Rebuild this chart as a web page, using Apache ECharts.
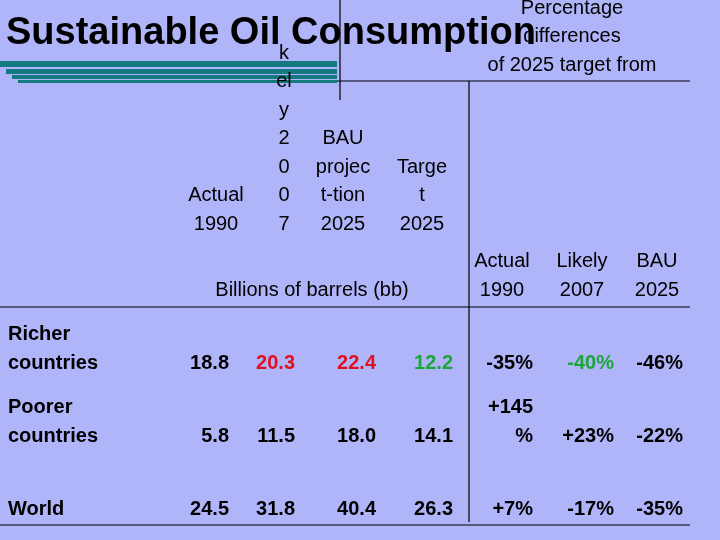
<!DOCTYPE html>
<html>
<head>
<meta charset="utf-8">
<script src="https://cdn.jsdelivr.net/npm/echarts@6/dist/echarts.min.js"></script>
<style>html,body{margin:0;padding:0;background:#b0b4f8}#main{width:720px;height:540px}</style>
</head>
<body>
<div id="main"></div>
<script>
const rowNames = [['Richer', 'countries'], ['Poorer', 'countries'], ['World']];
const actual1990 = ['18.8', '5.8', '24.5'];
const likely2007 = ['20.3', '11.5', '31.8'];
const bau2025 = ['22.4', '18.0', '40.4'];
const target2025 = ['12.2', '14.1', '26.3'];
const diffActual = [['-35%'], ['+145', '%'], ['+7%']];
const diffLikely = ['-40%', '+23%', '-17%'];
const diffBau = ['-46%', '-22%', '-35%'];

const RED = '#e0101e', GREEN = '#1aa63a', INK = '#000';
const font = '"Liberation Sans", Arial, sans-serif';
const g = [];

function txt(s, x, y, opts = {}) {
  g.push({
    type: 'text', x, y, z: opts.z || 1,
    style: {
      text: s, fill: opts.color || INK,
      font: (opts.bold ? 'bold ' : '') + (opts.size || 20) + 'px ' + font,
      textAlign: opts.align || 'center', textVerticalAlign: 'middle'
    }
  });
}
function lines(arr, x, yLast, opts) {
  arr.forEach((s, i) => txt(s, x, yLast - (arr.length - 1 - i) * 28.5, opts));
}
function line(x1, y1, x2, y2, color, w) {
  g.push({ type: 'line', shape: { x1, y1, x2, y2 }, style: { stroke: color || '#000', lineWidth: w || 1.2 } });
}

// title decoration bars
[[61, 0, 6], [69, 6, 5], [75, 12, 4], [80, 18, 3]].forEach(([y, x, h]) => {
  g.push({ type: 'rect', shape: { x, y, width: 337 - x, height: h }, style: { fill: '#157a80' } });
});
line(340, 0, 340, 100);
line(337, 81, 690, 81);
line(469, 81, 469, 522);
line(0, 307, 690, 307);
line(0, 525, 690, 525);

// column headers
lines(['Actual', '1990'], 216, 224);
lines(['k', 'el', 'y', '2', '0', '0', '7'], 284, 224);
lines(['BAU', 'projec', 't-tion', '2025'], 343, 224);
lines(['Targe', 't', '2025'], 422, 224);
txt('Billions of barrels (bb)', 312, 290);
lines(['Percentage', 'differences', 'of 2025 target from'], 572, 65);
lines(['Actual', '1990'], 502, 290);
lines(['Likely', '2007'], 582, 290);
lines(['BAU', '2025'], 657, 290);
txt('Sustainable Oil Consumption', 6, 34, { bold: true, size: 38, align: 'left', z: 5 });

// rows
const rowY = [363, 436, 509];
rowY.forEach((y, i) => {
  lines(rowNames[i], 8, y, { bold: true, align: 'left' });
  txt(actual1990[i], 229, y, { bold: true, align: 'right' });
  txt(likely2007[i], 295, y, { bold: true, align: 'right', color: i === 0 ? RED : INK });
  txt(bau2025[i], 376, y, { bold: true, align: 'right', color: i === 0 ? RED : INK });
  txt(target2025[i], 453, y, { bold: true, align: 'right', color: i === 0 ? GREEN : INK });
  lines(diffActual[i], 533, y, { bold: true, align: 'right' });
  txt(diffLikely[i], 614, y, { bold: true, align: 'right', color: i === 0 ? GREEN : INK });
  txt(diffBau[i], 683, y, { bold: true, align: 'right' });
});

const chart = echarts.init(document.getElementById('main'));
chart.setOption({ backgroundColor: '#b0b4f8', graphic: g });
</script>
</body>
</html>
